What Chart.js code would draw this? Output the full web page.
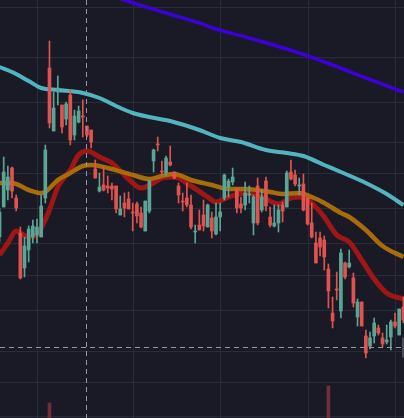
<!DOCTYPE html>
<html>
<head>
<meta charset="utf-8">
<script src="https://cdn.jsdelivr.net/npm/chart.js@4/dist/chart.umd.min.js"></script>
<style>
html,body{margin:0;padding:0;background:#191a25;overflow:hidden;}
#wrap{width:404px;height:418px;position:relative;}
</style>
</head>
<body>
<div id="wrap"><canvas id="c" width="404" height="418"></canvas></div>
<script>
// ---- candle data (index = bar number) ----
const opens  = [181,211,228,250,220,185,150,168,181,183,181,220,350,287,326,313,299,323,283,296,302,292,288,249,227,233,232,232,232,203,215,219,206,214,205,187,207,257,274,247,245,256,246,232,217,220,213,186,193,203,191,200,184,201,220,231,236,229,214,213,223,195,232,208,237,201,192,195,213,211,246,243,232,234,220,195,175,180,178,149,105,129,107,155,151,140,101,116,82,72,82,90,80,76,81,96,83,111];
const highs  = [210,261,252,251,223,191,181,192,198,199,223,273,377,326,342,313,316,328,308,312,318,292,288,258,245,251,242,235,232,222,225,226,215,216,211,217,238,269,281,257,262,272,246,235,225,235,223,193,208,218,214,206,215,215,244,239,250,230,221,236,232,223,240,228,241,211,213,213,216,247,258,248,240,244,221,215,186,186,182,154,121,146,169,156,168,145,119,116,88,86,100,93,85,93,98,105,109,121];
const lows   = [176,211,218,220,207,139,141,156,175,175,181,215,290,287,313,285,293,273,278,295,281,281,270,240,226,227,225,218,205,203,201,209,187,195,190,187,205,246,267,243,242,252,239,215,207,211,189,175,188,187,191,180,183,187,218,221,233,205,205,208,215,183,193,206,207,191,191,186,196,211,238,232,223,207,193,180,155,162,148,110,90,118,100,139,150,111,92,92,60,69,75,83,71,74,68,90,83,95];
const closes = [206,246,241,227,210,140,172,189,192,191,212,268,295,310,330,291,314,278,302,307,301,283,276,240,231,228,230,229,209,209,210,209,205,202,191,217,237,268,273,246,260,253,240,223,216,213,191,187,188,192,213,187,201,206,243,237,241,210,210,225,224,221,195,221,212,193,195,208,207,245,239,234,233,208,194,181,155,171,161,127,97,128,165,141,155,115,116,92,65,80,95,85,74,78,96,92,109,98];

// visible volume bars (others fall below the pane)
const volIndex  = [12, 79];
const volValues = [36, 77];

// ---- moving averages: [bar index, value] ----
const maPurple = [[18,440],[24,427],[30,418],[40,405],[48,395],[52,389],[60,380],[72,365],[80,353],[88,340],[97,326]];
const maCyan   = [[0,351],[3,346],[7,337],[10,330],[14,328],[20,325],[24,320],[28,312],[32,305],[36,301],[41,297],[48,288],[53,280],[58,276],[64,268],[69,265],[73,262],[78,253],[82,246],[88,235],[93,224],[97,213]];
const maOrange = [[0,235],[3,235],[7,228],[10,225],[11,226],[14,238],[17,245],[20,252],[22,253],[26,250],[32,243],[36,239],[39,242],[42,244],[46,238],[51,233],[55,229],[59,229],[65,226],[68,224],[72,225],[75,221],[78,215],[82,205],[84,201],[88,188],[92,172],[97,161]];
const maRed    = [[0,163],[2,175],[4,187],[5,185],[7,181],[9,183],[10,190],[12,208],[14,231],[17,248],[19,263],[21,267],[22,266],[24,261],[27,255],[31,239],[34,230],[37,235],[39,240],[42,241],[46,232],[50,221],[52,216],[55,221],[59,225],[63,221],[67,214],[70,220],[73,221],[75,215],[78,201],[81,183],[84,176],[87,158],[90,139],[93,125],[97,119]];

// ---- grid / tick values ----
const timeTicks  = [9, 32, 53, 74, 95];
const priceTicks = [411, 361, 316, 276, 245, 210, 175, 143, 108, 67, 36, 2];

// ---- crosshair ----
const crossIndex = 21;
const crossPrice = 71;

const UP = '#5aa596', DOWN = '#e0534f';
const candleColors = opens.map((o, i) => closes[i] >= o ? UP : DOWN);

const bodyData = opens.map((o, i) => ({x: i, y: [o, closes[i]]}));
const wickData = opens.map((o, i) => ({x: i, y: [lows[i], highs[i]]}));
const volData = volIndex.map((k, j) => ({x: k, y: volValues[j]}));
const toPts = arr => arr.map(p => ({x: p[0], y: p[1]}));

const bgPlugin = {
  id: 'bg',
  beforeDraw(chart) {
    const ctx = chart.ctx;
    ctx.save();
    ctx.fillStyle = '#191a25';
    ctx.fillRect(0, 0, chart.width, chart.height);
    ctx.restore();
  },
  beforeDatasetsDraw(chart) {
    const {ctx, chartArea, scales} = chart;
    ctx.save();
    ctx.strokeStyle = '#2a2b38';
    ctx.lineWidth = 1;
    ctx.beginPath();
    timeTicks.forEach(t => {
      const xp = Math.round(scales.x.getPixelForValue(t)) + 0.5;
      ctx.moveTo(xp, chartArea.top);
      ctx.lineTo(xp, chartArea.bottom);
    });
    priceTicks.forEach(p => {
      const yp = Math.round(scales.y.getPixelForValue(p)) + 0.5;
      ctx.moveTo(chartArea.left, yp);
      ctx.lineTo(chartArea.right, yp);
    });
    ctx.stroke();
    ctx.restore();
  }
};

const crossPlugin = {
  id: 'cross',
  afterDatasetsDraw(chart) {
    const {ctx, chartArea, scales} = chart;
    const xp = Math.round(scales.x.getPixelForValue(crossIndex)) - 0.5;
    const yp = Math.round(scales.y.getPixelForValue(crossPrice)) + 0.5;
    ctx.save();
    ctx.strokeStyle = '#9598a1';
    ctx.lineWidth = 1;
    ctx.setLineDash([5, 4]);
    ctx.beginPath();
    ctx.moveTo(xp, chartArea.top);
    ctx.lineTo(xp, chartArea.bottom);
    ctx.moveTo(chartArea.left, yp);
    ctx.lineTo(chartArea.right, yp);
    ctx.stroke();
    ctx.setLineDash([]);
    ctx.fillStyle = '#4c4f59';
    ctx.fillRect(chartArea.right - 2, yp - 10, 2, 20);
    ctx.restore();
  }
};

const lineDs = (pts, color, w, order) => ({
  type: 'line',
  data: toPts(pts),
  borderColor: color,
  borderWidth: w,
  pointRadius: 0,
  fill: false,
  cubicInterpolationMode: 'monotone',
  yAxisID: 'y',
  order: order
});

new Chart(document.getElementById('c'), {
  type: 'bar',
  data: {
    datasets: [
      {
        label: 'vol',
        data: volData,
        backgroundColor: '#6e3034',
        barThickness: 3,
        grouped: false,
        yAxisID: 'yVol',
        order: 10
      },
      lineDs(maPurple, '#3c00d8', 3.5, 6),
      lineDs(maCyan, '#52b4be', 4, 5),
      lineDs(maRed, '#9e1616', 5, 4),
      lineDs(maOrange, '#a86c0a', 4.5, 3),
      {
        label: 'wick',
        data: wickData,
        backgroundColor: candleColors,
        barThickness: 1,
        grouped: false,
        yAxisID: 'y',
        order: 2
      },
      {
        label: 'body',
        data: bodyData,
        backgroundColor: candleColors,
        barThickness: 3,
        minBarLength: 1,
        grouped: false,
        yAxisID: 'y',
        order: 1
      }
    ]
  },
  options: {
    responsive: false,
    animation: false,
    devicePixelRatio: 1,
    layout: {padding: 0},
    plugins: {legend: {display: false}, tooltip: {enabled: false}},
    scales: {
      x: {
        type: 'linear',
        min: 0.113,
        max: 97.16,
        offset: false,
        ticks: {display: false},
        grid: {display: false, drawTicks: false},
        border: {display: false}
      },
      y: {
        type: 'linear',
        min: 0,
        max: 418,
        ticks: {display: false},
        grid: {display: false, drawTicks: false},
        border: {display: false}
      },
      yVol: {
        type: 'linear',
        display: false,
        min: 0,
        max: 1000
      }
    }
  },
  plugins: [bgPlugin, crossPlugin]
});
</script>
</body>
</html>
